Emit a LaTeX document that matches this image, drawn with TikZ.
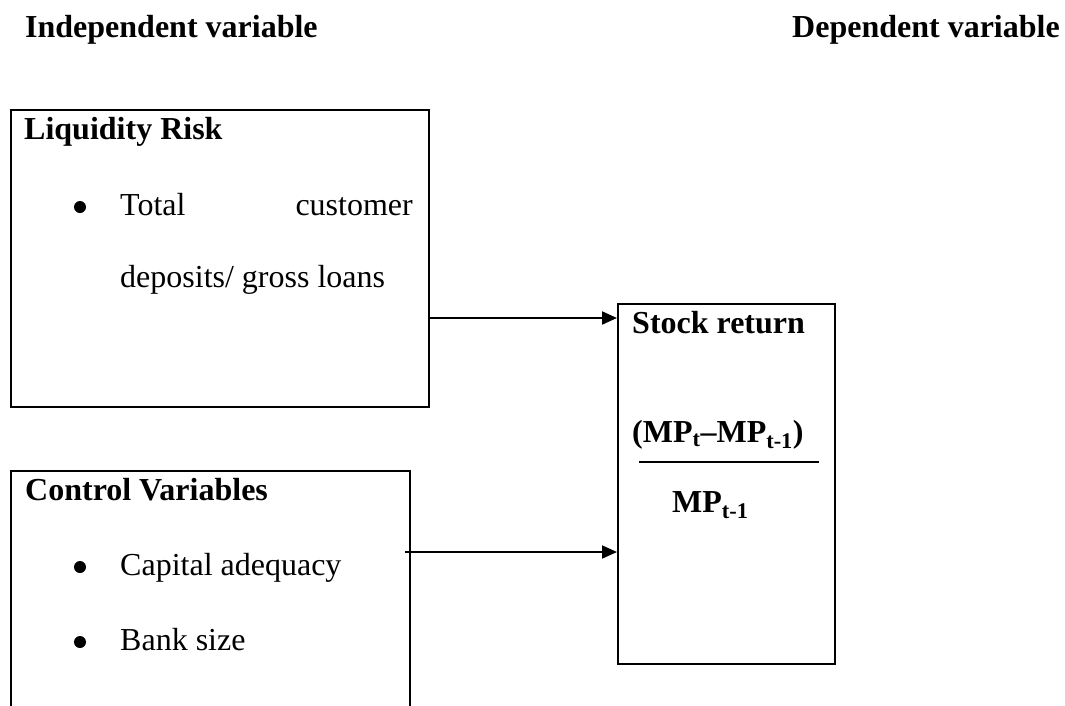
\documentclass[tikz,border=0pt]{standalone}
\usepackage{fontspec}
\setmainfont{Liberation Serif}
\usetikzlibrary{arrows.meta}

\begin{document}
\begin{tikzpicture}[x=1pt,y=-1pt]
\tikzstyle{every node}+=[inner sep=0pt, font=\fontsize{32}{38}\selectfont]
\tikzstyle{box}=[draw=black, line width=2.3pt, rectangle, anchor=north west]
\tikzstyle{txt}=[anchor=base west]
\tikzstyle{dot}=[circle, fill=black, minimum size=12pt]
\tikzstyle{link}=[black, line width=2pt, -{Triangle[length=15pt,width=13pt]}]
\useasboundingbox (0,0) rectangle (1065,705);
\clip (0,0) rectangle (1065,705);
% headings
\node [txt] (indep) at (25,37) {\textbf{Independent variable}};
\node [txt] (dep) at (792,37) {\textbf{Dependent variable}};
% liquidity risk
\node [box, minimum width=418pt, minimum height=297pt] (liq) at (10,109) {};
\node [txt] (liqhead) at (24,139) {\textbf{Liquidity Risk}};
\node [dot] (liqdot) at (80,207) {};
\node [txt] (total) at (120,215) {Total};
\node [anchor=base east] (cust) at (413,215) {customer};
\node [txt] (depo) at (120,287) {deposits/ gross loans};
% control variables
\node [box, minimum width=399pt, minimum height=300pt] (ctrl) at (10,470) {};
\node [txt] (ctrlhead) at (25,500) {\textbf{Control Variables}};
\node [dot] (capdot) at (80,567) {};
\node [txt] (cap) at (120,575) {Capital adequacy};
\node [dot] (sizedot) at (80,642) {};
\node [txt] (size) at (120,650) {Bank size};
% stock return
\node [box, minimum width=217pt, minimum height=360pt] (ret) at (617,303) {};
\node [txt] (rethead) at (632,333) {\textbf{Stock return}};
\node [txt] (num) at (632,442) {\textbf{(MP\textsubscript{t}--MP\textsubscript{t-1})}};
\coordinate (barl) at (639,462);
\coordinate (barr) at (819,462);
\draw [black, line width=1.4pt] (barl) -- (barr);
\node [txt] (den) at (672,512) {\textbf{MP\textsubscript{t-1}}};
% arrows
\coordinate (a1) at (0,318);
\coordinate (a2) at (405,552);
\draw [link] (a1 -| liq.east) -- (a1 -| ret.west);
\draw [link] (a2) -- (a2 -| ret.west);
\end{tikzpicture}
\end{document}
